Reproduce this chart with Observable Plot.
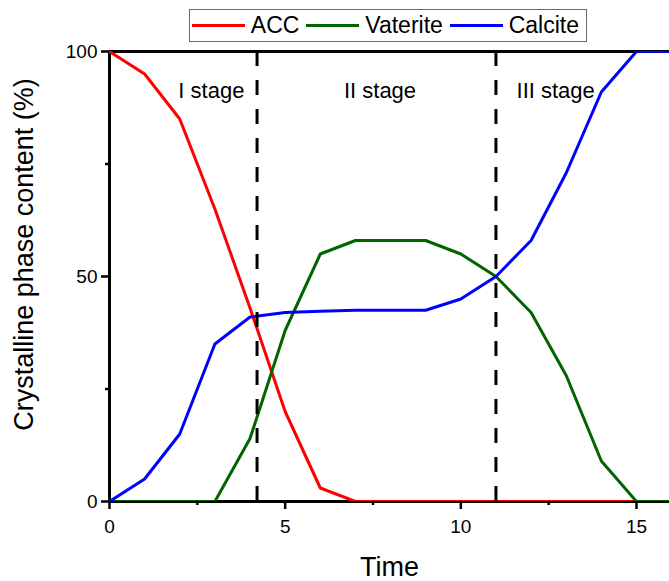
<!DOCTYPE html>
<html>
<head>
<meta charset="utf-8">
<script src="https://cdn.jsdelivr.net/npm/d3@7"></script>
<script src="https://cdn.jsdelivr.net/npm/@observablehq/plot@0.6"></script>
<style>
  html, body { margin: 0; padding: 0; background: #fff; width: 669px; height: 581px; overflow: hidden; }
  #legendWrap { position: relative; height: 45px; z-index: 2; }
  #legend { position: absolute; left: 189px; top: 9px; width: 398px; height: 33px; box-sizing: border-box;
    border: 1px solid #6b6b6b; display: flex; align-items: center; background: #fff;
    font-family: 'Liberation Sans', Arial, sans-serif; font-size: 23px; color: #000; }
  .sw { display: inline-block; width: 53px; height: 3px; }
  .lab { margin-left: 6px; margin-right: 7px; line-height: 1; }
  #chart svg { overflow: visible; }
</style>
</head>
<body>
<div id="legendWrap"><div id="legend"></div></div>
<div id="chart"></div>
<script>
// ---- data ----
const time = [0, 1, 2, 3, 4, 5, 6, 7, 8, 9, 10, 11, 12, 13, 14, 15, 16];
const acc = [100, 95, 85, 65, 43, 20, 3, 0, 0, 0, 0, 0, 0, 0, 0, 0, 0];
const vaterite = [0, 0, 0, 0, 14, 38, 55, 58, 58, 58, 55, 50, 42, 28, 9, 0, 0];
const calcite = [0, 5, 15, 35, 41, 42, 42.3, 42.5, 42.5, 42.5, 45, 50, 58, 73, 91, 100, 100];

const seriesNames = ["ACC", "Vaterite", "Calcite"];
const seriesColors = ["#ff0000", "#006400", "#0000ff"];
const seriesValues = [acc, vaterite, calcite];

const stageBoundaries = [4.2, 11];
const stageLabels = ["I stage", "II stage", "III stage"];
const stageLabelX = [2.9, 7.7, 12.7];
const stageLabelY = 89.6;

const xTicks = [0, 5, 10, 15];
const xMinorTicks = [2.5, 7.5, 12.5];
const yTicks = [0, 50, 100];
const yMinorTicks = [25, 75];

const xTitle = "Time";
const yTitle = "Crystalline phase content (%)";

// ---- legend ----
const legend = document.getElementById("legend");
seriesNames.forEach((name, i) => {
  const sw = document.createElement("span");
  sw.className = "sw";
  sw.style.background = seriesColors[i];
  if (i === 0) sw.style.marginLeft = "2px";
  const lab = document.createElement("span");
  lab.className = "lab";
  lab.textContent = name;
  legend.appendChild(sw);
  legend.appendChild(lab);
});

// ---- table ----
const rows = [];
seriesNames.forEach((name, i) => {
  time.forEach((t, j) => rows.push({series: name, time: t, value: seriesValues[i][j]}));
});
const stages = stageLabels.map((s, i) => ({label: s, x: stageLabelX[i], y: stageLabelY}));

const chart = Plot.plot({
  width: 669,
  height: 536,
  marginTop: 6,
  marginBottom: 80,
  marginLeft: 109,
  marginRight: 0,
  style: {fontFamily: "'Liberation Sans', Arial, sans-serif", fontSize: "19px", background: "#fff", color: "#000", overflow: "visible"},
  x: {domain: [0, 15.94]},
  y: {domain: [0, 100]},
  color: {domain: seriesNames, range: seriesColors},
  marks: [
    Plot.axisX({ticks: xTicks, tickSize: 8, tickPadding: 10, strokeWidth: 2.5, fontSize: 19, label: null}),
    Plot.axisX({ticks: xMinorTicks, tickSize: 4, strokeWidth: 2.5, text: null, label: null}),
    Plot.axisY({ticks: yTicks, tickSize: 8, tickPadding: 4, strokeWidth: 2.5, fontSize: 19, label: null}),
    Plot.axisY({ticks: yMinorTicks, tickSize: 4, strokeWidth: 2.5, text: null, label: null}),
    Plot.ruleX([0], {stroke: "#000", strokeWidth: 3}),
    Plot.ruleY([0], {stroke: "#000", strokeWidth: 3}),
    Plot.ruleY([100], {stroke: "#000", strokeWidth: 3}),
    Plot.line(rows, {x: "time", y: "value", z: "series", stroke: "series", strokeWidth: 3, clip: true}),
    Plot.ruleX(stageBoundaries, {stroke: "#000", strokeWidth: 3, strokeDasharray: "15,14"}),
    Plot.text(stages, {x: "x", y: "y", text: "label", fontSize: 22, textAnchor: "middle", lineAnchor: "bottom", fill: "#000"}),
    Plot.text([yTitle], {text: d => d, frameAnchor: "left", textAnchor: "middle", rotate: -90, dx: -85, dy: -22, fontSize: 27, fill: "#000"}),
    Plot.text([xTitle], {text: d => d, frameAnchor: "bottom", textAnchor: "middle", dy: 74, lineAnchor: "bottom", fontSize: 27, fill: "#000"})
  ]
});
document.getElementById("chart").appendChild(chart);
</script>
</body>
</html>
